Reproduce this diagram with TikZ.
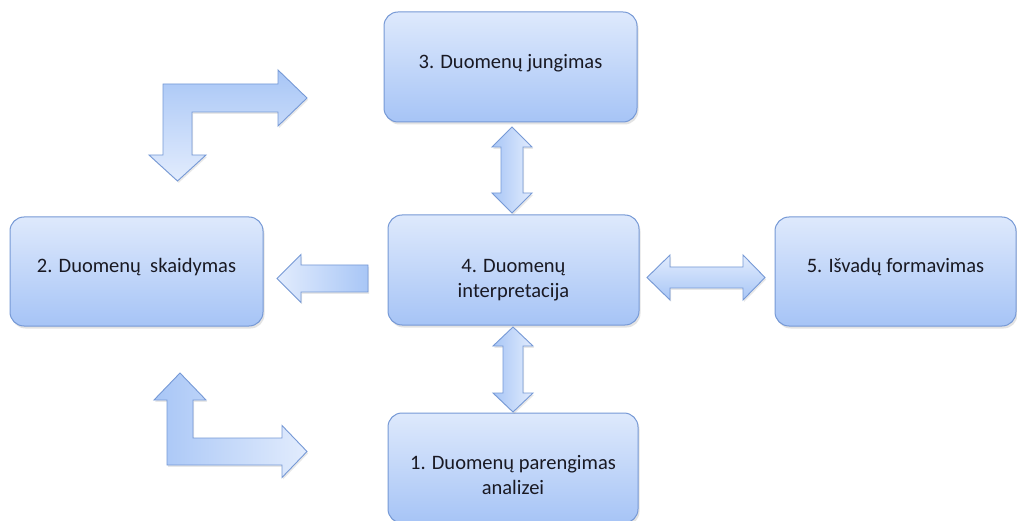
\documentclass[tikz,border=0pt]{standalone}
\usepackage{fontspec}
\setmainfont{Carlito}
\usetikzlibrary{shadows}
\definecolor{boxtop}{RGB}{222,233,252}
\definecolor{boxbot}{RGB}{166,196,246}
\definecolor{boxline}{RGB}{118,153,214}
\definecolor{arrdark}{RGB}{168,198,246}
\definecolor{arrlight}{RGB}{226,236,253}
\definecolor{txt}{RGB}{25,25,35}
\tikzset{
  stagebox/.style={draw=boxline, line width=1pt, rounded corners=14pt,
    top color=boxtop, bottom color=boxbot, inner sep=0pt,
    drop shadow={opacity=0.22, shadow xshift=1.5pt, shadow yshift=-2.5pt}},
  stagetext/.style={font=\fontsize{20.5}{25}\selectfont, text=txt, align=center},
  blockarrow/.style={draw=boxline, line width=0.9pt, line join=miter,
    drop shadow={opacity=0.18, shadow xshift=1.2pt, shadow yshift=-1.8pt}},
}
\begin{document}
\begin{tikzpicture}[x=1pt,y=-1pt]
\useasboundingbox[fill=white] (0,0) rectangle (1017,521);

% process stages
\node[stagebox, minimum width=253pt, minimum height=110pt,
  label={[stagetext, yshift=4pt]center:3. Duomenų jungimas}] (b3) at (510.5,67) {};
\node[stagebox, minimum width=253pt, minimum height=109pt,
  label={[stagetext, yshift=4pt]center:2. Duomenų\ \ skaidymas}] (b2) at (136.5,271.5) {};
\node[stagebox, minimum width=251pt, minimum height=110pt,
  label={[stagetext, yshift=-10pt]center:4. Duomenų\\interpretacija}] (b4) at (513.5,270) {};
\node[stagebox, minimum width=241pt, minimum height=109pt,
  label={[stagetext, yshift=4pt]center:5. Išvadų formavimas}] (b5) at (895.5,271.5) {};
\node[stagebox, minimum width=250pt, minimum height=110pt,
  label={[stagetext, yshift=-7pt]center:1. Duomenų parengimas\\analizei}] (b1) at (513,468) {};

% two-way arrow between stage 3 and stage 4
\path[blockarrow, left color=arrdark, right color=arrlight]
  (512,127) -- (532,147) -- (523,147) -- (523,193) -- (532,193) -- (512,213)
  -- (492,193) -- (501,193) -- (501,147) -- (492,147) -- cycle;

% two-way arrow between stage 4 and stage 1
\path[blockarrow, left color=arrdark, right color=arrlight]
  (513,327) -- (533,346) -- (523,346) -- (523,393) -- (533,393) -- (513,412)
  -- (493,393) -- (503,393) -- (503,346) -- (493,346) -- cycle;

% arrow from stage 4 to stage 2
\path[blockarrow, left color=arrlight, right color=arrdark]
  (277,278.5) -- (301,254.5) -- (301,265) -- (368,265) -- (368,292)
  -- (301,292) -- (301,302.5) -- cycle;

% two-way arrow between stage 4 and stage 5
\path[blockarrow, top color=arrlight, bottom color=arrdark]
  (647,277.5) -- (670,255) -- (670,267) -- (743,267) -- (743,255) -- (765,277.5)
  -- (743,300) -- (743,288) -- (670,288) -- (670,300) -- cycle;

% bent arrow, upper left
\path[blockarrow, top color=arrdark, bottom color=arrlight]
  (163,84) -- (278,84) -- (278,70) -- (307,98) -- (278,126) -- (278,112)
  -- (192,112) -- (192,155) -- (206,155) -- (177.5,181) -- (149,155)
  -- (163,155) -- cycle;

% bent arrow, lower left
\path[blockarrow, left color=arrdark, right color=arrlight]
  (167,465) -- (167,400) -- (154,400) -- (180,373) -- (206,400) -- (193,400)
  -- (193,438) -- (282,438) -- (282,425.5) -- (307,451.5) -- (282,477.5)
  -- (282,465) -- cycle;
\end{tikzpicture}
\end{document}
